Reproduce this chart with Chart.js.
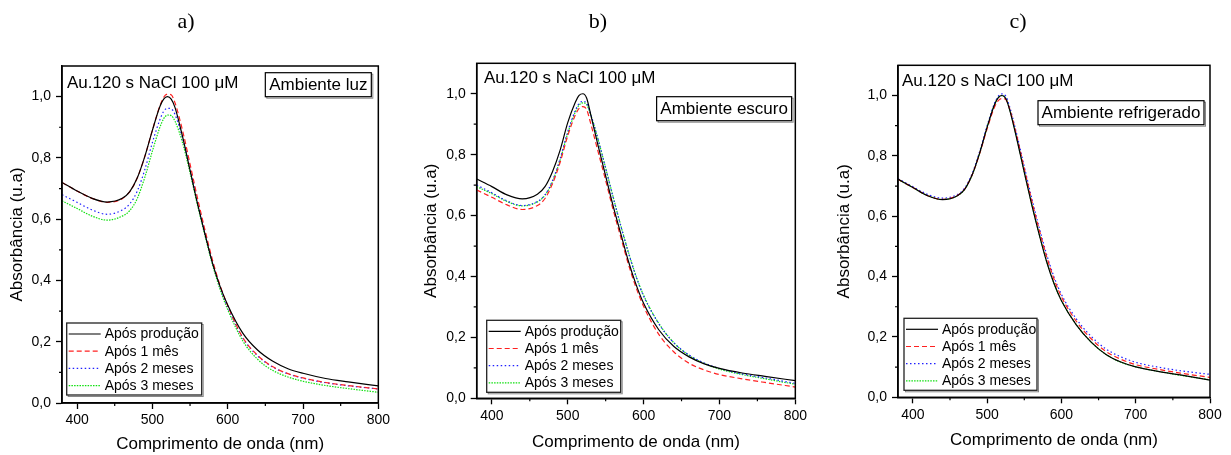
<!DOCTYPE html>
<html>
<head>
<meta charset="utf-8">
<script src="https://cdn.jsdelivr.net/npm/chart.js@4.4.0/dist/chart.umd.min.js"></script>
<style>
  body { margin: 0; background: #fff; width: 1231px; height: 455px; position: relative; overflow: hidden; }
  canvas { position: absolute; top: 0; }
</style>
</head>
<body>
<canvas id="c1" width="400" height="455" style="left:-7px"></canvas>
<canvas id="c2" width="410" height="455" style="left:400px"></canvas>
<canvas id="c3" width="405" height="455" style="left:826px"></canvas>
<script>
// wavelengths (nm) shared by every curve
const wavelength = [380, 400, 420, 440, 460, 470, 480, 490, 500, 510, 515, 520, 525, 530, 540, 550, 560, 570, 580, 590, 600, 620, 640, 660, 680, 700, 730, 760, 800];

const seriesNames = ["Após produção", "Após 1 mês", "Após 2 meses", "Após 3 meses"];
const panelTitles = ["a)", "b)", "c)"];
const sampleLabel = "Au.120 s NaCl 100 \u03bcM";
const ambientLabels = ["Ambiente luz", "Ambiente escuro", "Ambiente refrigerado"];

const xTicks = [400, 500, 600, 700, 800];
const xMinor = [450, 550, 650, 750];
const yTicks = [0, 0.2, 0.4, 0.6, 0.8, 1.0];
const yMinor = [0.1, 0.3, 0.5, 0.7, 0.9];

// a) ambiente luz
const luzProducao = [0.720, 0.692, 0.668, 0.656, 0.668, 0.690, 0.735, 0.805, 0.890, 0.968, 0.992, 1.000, 0.992, 0.965, 0.870, 0.760, 0.650, 0.550, 0.455, 0.380, 0.320, 0.228, 0.172, 0.136, 0.112, 0.097, 0.080, 0.069, 0.056];
const luzMes1 = [0.720, 0.692, 0.668, 0.655, 0.667, 0.690, 0.735, 0.805, 0.890, 0.970, 0.998, 1.008, 1.006, 0.980, 0.890, 0.780, 0.668, 0.563, 0.465, 0.383, 0.318, 0.214, 0.155, 0.118, 0.096, 0.082, 0.067, 0.057, 0.046];
const luzMes2 = [0.680, 0.655, 0.630, 0.616, 0.630, 0.650, 0.692, 0.762, 0.850, 0.925, 0.952, 0.962, 0.960, 0.942, 0.865, 0.765, 0.656, 0.553, 0.458, 0.378, 0.313, 0.212, 0.153, 0.117, 0.095, 0.081, 0.066, 0.056, 0.046];
const luzMes3 = [0.660, 0.635, 0.610, 0.597, 0.610, 0.628, 0.668, 0.737, 0.822, 0.900, 0.928, 0.940, 0.938, 0.920, 0.850, 0.752, 0.645, 0.545, 0.450, 0.370, 0.305, 0.203, 0.142, 0.106, 0.085, 0.071, 0.057, 0.047, 0.035];

// b) ambiente escuro
const escProducao = [0.720, 0.695, 0.668, 0.655, 0.670, 0.695, 0.745, 0.815, 0.905, 0.972, 0.995, 1.000, 0.985, 0.935, 0.830, 0.730, 0.630, 0.540, 0.450, 0.374, 0.312, 0.225, 0.170, 0.136, 0.113, 0.098, 0.083, 0.072, 0.058];
const escMes1 = [0.684, 0.660, 0.635, 0.620, 0.633, 0.656, 0.705, 0.775, 0.862, 0.930, 0.952, 0.958, 0.948, 0.905, 0.810, 0.715, 0.618, 0.528, 0.440, 0.364, 0.302, 0.210, 0.152, 0.115, 0.093, 0.078, 0.064, 0.052, 0.037];
const escMes2 = [0.700, 0.675, 0.648, 0.633, 0.646, 0.668, 0.715, 0.787, 0.875, 0.945, 0.968, 0.975, 0.968, 0.935, 0.850, 0.755, 0.658, 0.565, 0.478, 0.400, 0.336, 0.245, 0.182, 0.142, 0.116, 0.098, 0.080, 0.067, 0.049];
const escMes3 = [0.695, 0.672, 0.646, 0.632, 0.645, 0.667, 0.712, 0.783, 0.870, 0.940, 0.963, 0.970, 0.964, 0.933, 0.850, 0.756, 0.660, 0.567, 0.480, 0.402, 0.338, 0.246, 0.182, 0.141, 0.114, 0.096, 0.078, 0.064, 0.046];

// c) ambiente refrigerado
const refProducao = [0.723, 0.695, 0.668, 0.655, 0.668, 0.690, 0.738, 0.810, 0.895, 0.970, 0.993, 1.000, 0.990, 0.955, 0.855, 0.745, 0.638, 0.540, 0.450, 0.377, 0.320, 0.240, 0.183, 0.142, 0.117, 0.101, 0.086, 0.074, 0.057];
const refMes1 = [0.722, 0.695, 0.668, 0.656, 0.669, 0.691, 0.738, 0.808, 0.890, 0.962, 0.983, 0.990, 0.987, 0.958, 0.865, 0.758, 0.652, 0.556, 0.467, 0.392, 0.333, 0.252, 0.194, 0.152, 0.126, 0.108, 0.093, 0.080, 0.066];
const refMes2 = [0.724, 0.698, 0.672, 0.660, 0.672, 0.694, 0.742, 0.815, 0.900, 0.975, 0.998, 1.005, 0.998, 0.965, 0.870, 0.764, 0.660, 0.563, 0.474, 0.399, 0.341, 0.260, 0.202, 0.160, 0.134, 0.116, 0.100, 0.088, 0.076];
const refMes3 = [0.722, 0.695, 0.668, 0.656, 0.668, 0.690, 0.738, 0.810, 0.895, 0.970, 0.993, 1.000, 0.991, 0.957, 0.857, 0.747, 0.640, 0.542, 0.452, 0.378, 0.321, 0.241, 0.183, 0.142, 0.116, 0.101, 0.086, 0.073, 0.058];

const lineStyles = [
  { color: "#000000", dash: [] },
  { color: "#ff2020", dash: [5, 3] },
  { color: "#1f1fff", dash: [1.5, 2.5] },
  { color: "#10e010", dash: [1.5, 1.2] }
];

const SANS = "'Liberation Sans', Arial, sans-serif";

function makeDatasets(seriesList) {
  return seriesList.map((vals, i) => ({
    label: seriesNames[i],
    data: wavelength.map((w, j) => ({ x: w, y: vals[j] })),
    borderColor: lineStyles[i].color,
    borderDash: lineStyles[i].dash,
    borderWidth: 1.2,
    pointRadius: 0,
    fill: false,
    cubicInterpolationMode: "monotone"
  }));
}

// frame, minor ticks, legend box and the two text labels
const decoPlugin = {
  id: "deco",
  afterDraw(chart, args, opts) {
    const { ctx, chartArea: a, scales: { x, y } } = chart;
    ctx.save();
    ctx.strokeStyle = "#000";
    ctx.lineWidth = 1.5;
    ctx.setLineDash([]);
    ctx.strokeRect(a.left, a.top, a.right - a.left, a.bottom - a.top);

    ctx.lineWidth = 1.2;
    ctx.beginPath();
    xMinor.forEach(v => {
      const px = x.getPixelForValue(v);
      ctx.moveTo(px, a.bottom);
      ctx.lineTo(px, a.bottom + 3);
    });
    yMinor.forEach(v => {
      const py = y.getPixelForValue(v);
      ctx.moveTo(a.left - 3, py);
      ctx.lineTo(a.left, py);
    });
    ctx.stroke();

    // sample text
    ctx.fillStyle = "#000";
    ctx.font = "17px " + SANS;
    ctx.textBaseline = "middle";
    ctx.textAlign = "left";
    ctx.fillText(sampleLabel, a.left + opts.sampleX, a.top + opts.sampleY);

    // ambient box
    const bw = opts.boxW, bh = 24;
    const bx = a.right - opts.boxRight - bw, by = a.top + opts.boxTop;
    ctx.strokeStyle = "#888";
    ctx.lineWidth = 1;
    ctx.strokeRect(bx + 1.5, by + 1.5, bw, bh);
    ctx.fillStyle = "#fff";
    ctx.fillRect(bx, by, bw, bh);
    ctx.strokeStyle = "#000";
    ctx.lineWidth = 1.2;
    ctx.strokeRect(bx, by, bw, bh);
    ctx.fillStyle = "#000";
    ctx.textAlign = "center";
    ctx.fillText(opts.ambient, bx + bw / 2, by + bh / 2 + 1);

    // legend
    const lw = opts.legW, lh = 72;
    const lx = a.left + opts.legX, ly = a.bottom - opts.legBottom - lh;
    ctx.strokeStyle = "#888";
    ctx.lineWidth = 1;
    ctx.strokeRect(lx + 1.5, ly + 1.5, lw, lh);
    ctx.fillStyle = "#fff";
    ctx.fillRect(lx, ly, lw, lh);
    ctx.strokeStyle = "#222";
    ctx.lineWidth = 1.3;
    ctx.strokeRect(lx, ly, lw, lh);
    ctx.font = "14px " + SANS;
    ctx.textAlign = "left";
    chart.data.datasets.forEach((ds, i) => {
      const ry = ly + 11 + i * 17.2;
      ctx.strokeStyle = ds.borderColor;
      ctx.lineWidth = 1.2;
      ctx.setLineDash(ds.borderDash);
      ctx.beginPath();
      ctx.moveTo(lx + 2, ry);
      ctx.lineTo(lx + 34, ry);
      ctx.stroke();
      ctx.setLineDash([]);
      ctx.fillStyle = "#000";
      ctx.fillText(ds.label, lx + 38, ry + 0.5);
    });
    ctx.restore();
  }
};

function makeChart(id, seriesList, p) {
  new Chart(document.getElementById(id), {
    type: "line",
    data: { datasets: makeDatasets(seriesList) },
    plugins: [decoPlugin],
    options: {
      responsive: false,
      animation: false,
      layout: { padding: { left: 0, right: p.padR, top: 0, bottom: 0 } },
      plugins: {
        legend: { display: false },
        tooltip: { enabled: false },
        title: {
          display: true,
          text: p.title,
          color: "#000",
          font: { family: "'Liberation Serif', 'Times New Roman', serif", size: 22, weight: "normal", lineHeight: 1.2 },
          padding: { top: 9.3, bottom: p.titleBottom }
        },
        deco: p.deco
      },
      scales: {
        x: {
          type: "linear",
          min: 380,
          max: 800,
          afterBuildTicks: s => { s.ticks = xTicks.map(v => ({ value: v })); },
          afterFit: s => { s.height = p.xH; },
          border: { display: true, color: "#000", width: 1.5 },
          grid: { drawOnChartArea: false, drawTicks: true, tickLength: 6, tickWidth: 1.3, tickColor: "#000" },
          ticks: { color: "#000", font: { family: SANS, size: 14 }, padding: 3, maxRotation: 0 },
          title: {
            display: true,
            text: "Comprimento de onda (nm)",
            color: "#000",
            font: { family: SANS, size: 17 },
            padding: { top: 0, bottom: p.xTitleBottom }
          }
        },
        y: {
          type: "linear",
          min: 0,
          max: 1.1,
          afterBuildTicks: s => { s.ticks = yTicks.map(v => ({ value: v })); },
          afterFit: s => { s.width = p.yW; },
          border: { display: true, color: "#000", width: 1.5 },
          grid: { drawOnChartArea: false, drawTicks: true, tickLength: 6, tickWidth: 1.3, tickColor: "#000" },
          ticks: {
            color: "#000",
            font: { family: SANS, size: 14 },
            padding: 5,
            callback: v => v.toFixed(1).replace(".", ",")
          },
          title: {
            display: true,
            text: "Absorbância (u.a)",
            color: "#000",
            font: { family: SANS, size: 17 },
            padding: { top: p.yTitleTop, bottom: 0 }
          }
        }
      }
    }
  });
}

makeChart("c1", [luzProducao, luzMes1, luzMes2, luzMes3], {
  title: panelTitles[0], padR: 14, titleBottom: 30.3, xH: 52, yW: 69, xTitleBottom: 0, yTitleTop: 14.3,
  deco: { sampleX: 5, sampleY: 17.5, ambient: ambientLabels[0], boxW: 106, boxRight: 7, boxTop: 6.7, legX: 4.7, legW: 135, legBottom: 8 }
});
makeChart("c2", [escProducao, escMes1, escMes2, escMes3], {
  title: panelTitles[1], padR: 14.3, titleBottom: 27.6, xH: 56.7, yW: 76.7, xTitleBottom: 2.3, yTitleTop: 21.3,
  deco: { sampleX: 7.3, sampleY: 15, ambient: ambientLabels[1], boxW: 135, boxRight: 3.7, boxTop: 33.4, legX: 10, legW: 134, legBottom: 6 }
});
makeChart("c3", [refProducao, refMes1, refMes2, refMes3], {
  title: panelTitles[2], padR: 21, titleBottom: 29.6, xH: 57.7, yW: 72, xTitleBottom: 4.3, yTitleTop: 7.8,
  deco: { sampleX: 4, sampleY: 16.4, ambient: ambientLabels[2], boxW: 166, boxRight: 6, boxTop: 35.4, legX: 6, legW: 133, legBottom: 7 }
});
</script>
</body>
</html>
